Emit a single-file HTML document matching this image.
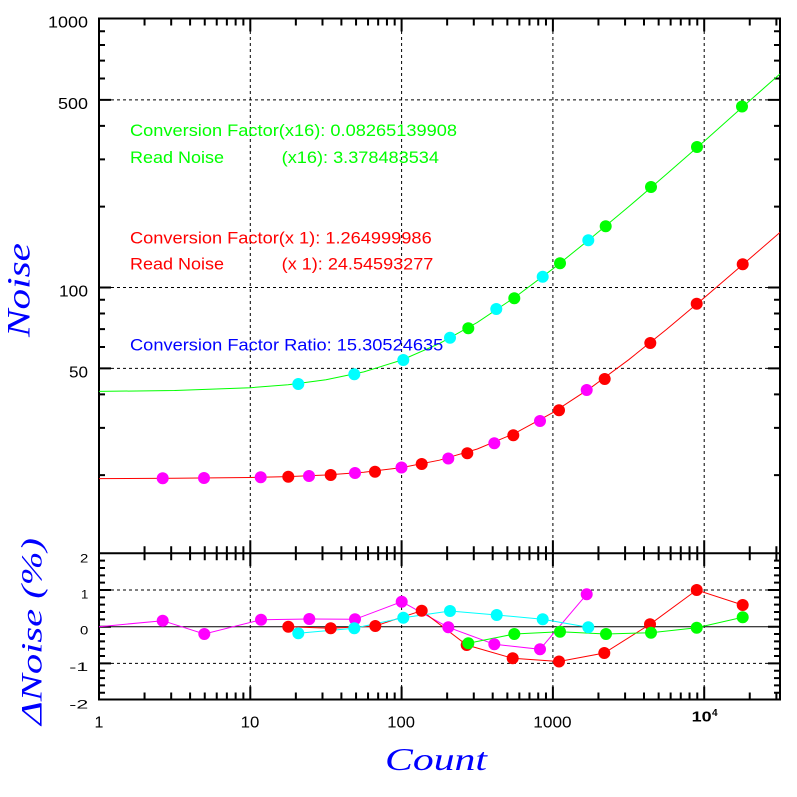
<!DOCTYPE html>
<html><head><meta charset="utf-8"><style>
html,body{margin:0;padding:0;background:#fff;}
svg{display:block;}
text{font-family:"Liberation Sans",sans-serif;}
.s{font-family:"Liberation Serif",serif;font-style:italic;fill:#0000ff;}
</style></head><body>
<svg width="797" height="797" viewBox="0 0 797 797" xmlns="http://www.w3.org/2000/svg">
<rect x="0" y="0" width="797" height="797" fill="#fff"/>
<defs>
<g id="xt"><path d="M250.3 0V13M401.6 0V13M552.9 0V13M704.2 0V13
M144.55 0V7M171.19 0V7M190.09 0V7M204.75 0V7M216.74 0V7M226.86 0V7M235.64 0V7M243.38 0V7
M295.85 0V7M322.49 0V7M341.39 0V7M356.05 0V7M368.04 0V7M378.16 0V7M386.94 0V7M394.68 0V7
M447.15 0V7M473.79 0V7M492.69 0V7M507.35 0V7M519.34 0V7M529.46 0V7M538.24 0V7M545.98 0V7
M598.45 0V7M625.09 0V7M643.99 0V7M658.65 0V7M670.64 0V7M680.76 0V7M689.54 0V7M697.28 0V7
M749.75 0V7M776.39 0V7" stroke="#000" stroke-width="2" fill="none"/></g>
<g id="yt1"><path d="M0 99.83H12M0 287.5H12M0 368.33H12
M0 31.29H6M0 45.02H6M0 60.59H6M0 78.56H6M0 125.85H6M0 159.39H6M0 206.67H6
M0 299.79H6M0 313.52H6M0 329.09H6M0 347.06H6M0 394.35H6M0 427.89H6M0 475.17H6" stroke="#000" stroke-width="2" fill="none"/></g>
<g id="yt2"><path d="M0 590H12M0 626.7H12M0 663.4H12
M0 560.64H6M0 567.98H6M0 575.32H6M0 582.66H6M0 597.34H6M0 604.68H6M0 612.02H6M0 619.36H6
M0 634.04H6M0 641.38H6M0 648.72H6M0 656.06H6M0 670.74H6M0 678.08H6M0 685.42H6M0 692.76H6" stroke="#000" stroke-width="2" fill="none"/></g>
</defs>

<!-- grid -->
<g stroke="#000" stroke-width="1" stroke-dasharray="3,3" fill="none">
<path d="M250.3 19V700M401.6 19V700M552.9 19V700M704.2 19V700"/>
<path d="M99 99.83H780M99 287.5H780M99 368.33H780M99 590H780M99 663.4H780"/>
</g>
<path d="M99 626.7H780" stroke="#000" stroke-width="1"/>

<!-- ticks -->
<use href="#xt" transform="translate(0,18.5)"/>
<use href="#xt" transform="translate(0,553.3) scale(1,-1)"/>
<use href="#xt" transform="translate(0,553.3)"/>
<use href="#xt" transform="translate(0,699.5) scale(1,-1)"/>
<use href="#yt1" transform="translate(99,0)"/>
<use href="#yt1" transform="translate(780,0) scale(-1,1)"/>
<use href="#yt2" transform="translate(99,0)"/>
<use href="#yt2" transform="translate(780,0) scale(-1,1)"/>

<!-- frame -->
<rect x="99" y="18.5" width="681" height="681" fill="none" stroke="#000" stroke-width="2"/>
<path d="M99 553.3H780" stroke="#000" stroke-width="2"/>

<!-- model curves -->
<polyline fill="none" stroke="#00ff00" stroke-width="1" points="99,391.4 174.65,390.5 250.3,387.7 288.1,384.7 326,379.8 363.8,371.9 401.6,360.1 439.4,343.6 477.3,322.4 515.1,297.1 552.9,268.8 590.7,238.4 628.6,206.8 666.4,174.3 704.2,141.3 742,107.5 779.9,74"/>
<polyline fill="none" stroke="#ff0000" stroke-width="1" points="99,478.6 174.65,478.3 250.3,477.5 288.1,476.6 326,475.0 363.8,472.2 401.6,467.6 439.4,460.2 477.3,449.0 515.1,433.2 552.9,412.6 590.7,387.8 628.6,359.8 666.4,329.5 704.2,297.8 742,265.3 779.9,232.5"/>

<!-- top markers -->
<g fill="#ff00ff">
<circle cx="162.7" cy="478.3" r="6"/><circle cx="204" cy="478" r="6"/><circle cx="260.7" cy="477.3" r="6"/><circle cx="309" cy="476" r="6"/><circle cx="355" cy="473" r="6"/><circle cx="401.5" cy="467.5" r="6"/><circle cx="448.3" cy="458.5" r="6"/><circle cx="494.3" cy="443.3" r="6"/><circle cx="540" cy="421" r="6"/><circle cx="586.7" cy="390" r="6"/>
</g>
<g fill="#ff0000">
<circle cx="288.3" cy="476.7" r="6"/><circle cx="330.7" cy="475" r="6"/><circle cx="375" cy="471.7" r="6"/><circle cx="421.7" cy="464" r="6"/><circle cx="467.3" cy="453.3" r="6"/><circle cx="513.3" cy="435.3" r="6"/><circle cx="559" cy="410.3" r="6"/><circle cx="604.7" cy="379" r="6"/><circle cx="650.3" cy="343" r="6"/><circle cx="696.7" cy="303.7" r="6"/><circle cx="742.7" cy="264.3" r="6"/>
</g>
<g fill="#00ffff">
<circle cx="298.3" cy="384" r="6"/><circle cx="354.3" cy="374.3" r="6"/><circle cx="403.3" cy="360" r="6"/><circle cx="450" cy="337.7" r="6"/><circle cx="496.3" cy="309" r="6"/><circle cx="542.7" cy="276.7" r="6"/><circle cx="588.3" cy="240.3" r="6"/>
</g>
<g fill="#00ff00">
<circle cx="468.3" cy="328.3" r="6"/><circle cx="514.3" cy="298.3" r="6"/><circle cx="560" cy="263.3" r="6"/><circle cx="605.7" cy="226.3" r="6"/><circle cx="651" cy="187" r="6"/><circle cx="697" cy="147" r="6"/><circle cx="742" cy="106.5" r="6"/>
</g>

<!-- residual lines -->
<polyline fill="none" stroke="#ff00ff" stroke-width="1" points="99,626.7 162.7,620.7 204.3,634 261,619.7 309.3,619 355,619.3 401.7,601.7 448.3,627.3 494.3,644.3 540,649.3 586.7,594.3"/>
<polyline fill="none" stroke="#ff0000" stroke-width="1" points="288.3,626.7 330.7,628.3 375.3,626 421.7,610.7 466.7,645 512.7,658.3 559,661.5 604.3,653 650,624.3 696.7,590 742.7,605"/>
<polyline fill="none" stroke="#00ffff" stroke-width="1" points="298.3,633.3 354.3,628.3 403.3,617.7 450,611 496.7,615 542.7,619.3 588.3,627.3"/>
<polyline fill="none" stroke="#00ff00" stroke-width="1" points="468.3,643.3 514.3,634 560,631.7 606,634 651,632.7 696.7,627.7 742.7,617.3"/>
<g fill="#ff00ff">
<circle cx="162.7" cy="620.7" r="6"/><circle cx="204.3" cy="634" r="6"/><circle cx="261" cy="619.7" r="6"/><circle cx="309.3" cy="619" r="6"/><circle cx="355" cy="619.3" r="6"/><circle cx="401.7" cy="601.7" r="6"/><circle cx="448.3" cy="627.3" r="6"/><circle cx="494.3" cy="644.3" r="6"/><circle cx="540" cy="649.3" r="6"/><circle cx="586.7" cy="594.3" r="6"/>
</g>
<g fill="#ff0000">
<circle cx="288.3" cy="626.7" r="6"/><circle cx="330.7" cy="628.3" r="6"/><circle cx="375.3" cy="626" r="6"/><circle cx="421.7" cy="610.7" r="6"/><circle cx="466.7" cy="645" r="6"/><circle cx="512.7" cy="658.3" r="6"/><circle cx="559" cy="661.5" r="6"/><circle cx="604.3" cy="653" r="6"/><circle cx="650" cy="624.3" r="6"/><circle cx="696.7" cy="590" r="6"/><circle cx="742.7" cy="605" r="6"/>
</g>
<g fill="#00ffff">
<circle cx="298.3" cy="633.3" r="6"/><circle cx="354.3" cy="628.3" r="6"/><circle cx="403.3" cy="617.7" r="6"/><circle cx="450" cy="611" r="6"/><circle cx="496.7" cy="615" r="6"/><circle cx="542.7" cy="619.3" r="6"/><circle cx="588.3" cy="627.3" r="6"/>
</g>
<g fill="#00ff00">
<circle cx="468.3" cy="643.3" r="6"/><circle cx="514.3" cy="634" r="6"/><circle cx="560" cy="631.7" r="6"/><circle cx="606" cy="634" r="6"/><circle cx="651" cy="632.7" r="6"/><circle cx="696.7" cy="627.7" r="6"/><circle cx="742.7" cy="617.3" r="6"/>
</g>

<!-- annotations -->
<g font-size="17">
<text x="130" y="136" fill="#00ff00" textLength="327" lengthAdjust="spacingAndGlyphs">Conversion Factor(x16): 0.08265139908</text>
<text x="130" y="163" fill="#00ff00" textLength="94" lengthAdjust="spacingAndGlyphs">Read Noise</text>
<text x="281.7" y="163" fill="#00ff00" textLength="157.3" lengthAdjust="spacingAndGlyphs">(x16): 3.378483534</text>
<text x="130" y="243.3" fill="#ff0000" textLength="301.7" lengthAdjust="spacingAndGlyphs">Conversion Factor(x 1): 1.264999986</text>
<text x="130" y="269.3" fill="#ff0000" textLength="94" lengthAdjust="spacingAndGlyphs">Read Noise</text>
<text x="281.7" y="269.3" fill="#ff0000" textLength="151.6" lengthAdjust="spacingAndGlyphs">(x 1): 24.54593277</text>
<text x="130" y="350.7" fill="#0000ff" textLength="313.3" lengthAdjust="spacingAndGlyphs">Conversion Factor Ratio: 15.30524635</text>
</g>

<!-- y tick labels -->
<g font-size="16" fill="#000">
<text x="48" y="27.5" textLength="40" lengthAdjust="spacingAndGlyphs">1000</text>
<text x="58" y="109" textLength="30" lengthAdjust="spacingAndGlyphs">500</text>
<text x="59" y="296.7" textLength="29" lengthAdjust="spacingAndGlyphs">100</text>
<text x="69" y="377.3" textLength="19" lengthAdjust="spacingAndGlyphs">50</text>
</g>
<g font-size="12" fill="#000">
<text x="80" y="562.7" textLength="8.3" lengthAdjust="spacingAndGlyphs">2</text>
<text x="81" y="598.3" textLength="7.3" lengthAdjust="spacingAndGlyphs">1</text>
<text x="80" y="634.3" textLength="8.3" lengthAdjust="spacingAndGlyphs">0</text>
<text x="69.3" y="671" textLength="19" lengthAdjust="spacingAndGlyphs">-1</text>
<text x="69.3" y="708.3" textLength="19" lengthAdjust="spacingAndGlyphs">-2</text>
</g>
<!-- x tick labels -->
<g font-size="16" fill="#000">
<text x="99" y="727.3" text-anchor="middle">1</text>
<text x="240.7" y="727.3" textLength="18.7" lengthAdjust="spacingAndGlyphs">10</text>
<text x="387.3" y="727.3" textLength="27.7" lengthAdjust="spacingAndGlyphs">100</text>
<text x="533.3" y="727.3" textLength="38.3" lengthAdjust="spacingAndGlyphs">1000</text>
<text x="691.7" y="721.7" font-weight="bold" font-size="15" textLength="20" lengthAdjust="spacingAndGlyphs">10</text>
<text x="712" y="716" font-weight="bold" font-size="10">4</text>
</g>

<!-- axis titles -->
<text class="s" x="385" y="770" font-size="32" textLength="102" lengthAdjust="spacingAndGlyphs">Count</text>
<text class="s" transform="translate(29.5,290) rotate(-90)" text-anchor="middle" font-size="33" textLength="94" lengthAdjust="spacingAndGlyphs">Noise</text>
<text class="s" transform="translate(41.5,631.5) rotate(-90)" text-anchor="middle" font-size="30" textLength="187" lengthAdjust="spacingAndGlyphs">ΔNoise (%)</text>
</svg>
</body></html>
